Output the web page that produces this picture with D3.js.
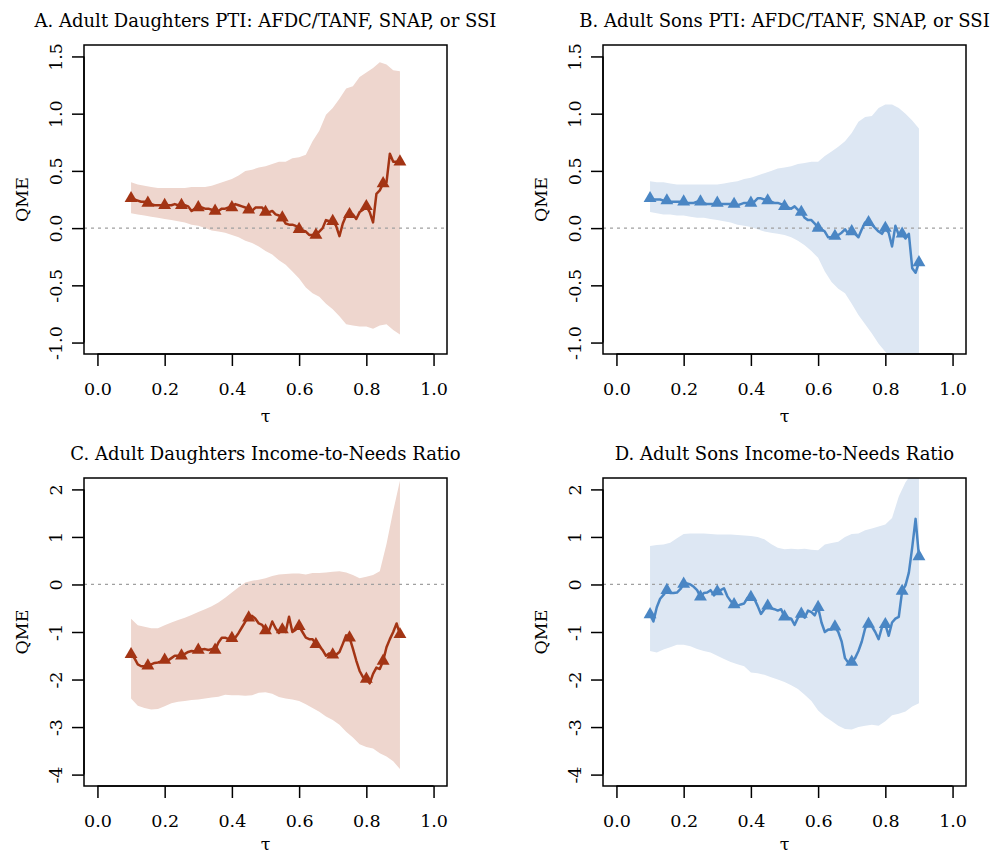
<!DOCTYPE html>
<html>
<head>
<meta charset="utf-8">
<title>QME panels</title>
<script src="https://d3js.org/d3.v7.min.js"></script>
<style>
  body { margin: 0; background: #fff; }
  svg text { font-family: "DejaVu Serif", serif; fill: #000; }
  .panel__title { font-size: 18px; }
  .panel__axis text { font-size: 17.5px; }
  .panel__label { font-size: 17.5px; }
</style>
</head>
<body>
<svg width="994" height="856"></svg>
<script>
// quantile grid for the estimated lines (triangles every 0.05)
const tau = [0.10,0.11,0.12,0.13,0.14,0.15,0.16,0.17,0.18,0.19,
             0.20,0.21,0.22,0.23,0.24,0.25,0.26,0.27,0.28,0.29,
             0.30,0.31,0.32,0.33,0.34,0.35,0.36,0.37,0.38,0.39,
             0.40,0.41,0.42,0.43,0.44,0.45,0.46,0.47,0.48,0.49,
             0.50,0.51,0.52,0.53,0.54,0.55,0.56,0.57,0.58,0.59,
             0.60,0.61,0.62,0.63,0.64,0.65,0.66,0.67,0.68,0.69,
             0.70,0.71,0.72,0.73,0.74,0.75,0.76,0.77,0.78,0.79,
             0.80,0.81,0.82,0.83,0.84,0.85,0.86,0.87,0.88,0.89,0.90];
// coarser grid for the confidence bands
const bandTau = [0.10,0.12,0.14,0.16,0.18,0.20,0.22,0.24,0.26,0.28,
                 0.30,0.32,0.34,0.36,0.38,0.40,0.42,0.44,0.46,0.48,
                 0.50,0.52,0.54,0.56,0.58,0.60,0.62,0.64,0.66,0.68,
                 0.70,0.72,0.74,0.76,0.78,0.80,0.82,0.84,0.86,0.88,0.90];

const xTicks = [0, 0.2, 0.4, 0.6, 0.8, 1.0];
const ptiTicks = [-1.0, -0.5, 0.0, 0.5, 1.0, 1.5];
const incTicks = [-4, -3, -2, -1, 0, 1, 2];

const titles = [
  "A. Adult Daughters PTI: AFDC/TANF, SNAP, or SSI",
  "B. Adult Sons PTI: AFDC/TANF, SNAP, or SSI",
  "C. Adult Daughters Income-to-Needs Ratio",
  "D. Adult Sons Income-to-Needs Ratio"
];

// A. daughters, PTI
const ptiDaughters = [0.26,0.25,0.24,0.23,0.23,0.22,0.21,0.20,0.20,0.20,
  0.20,0.20,0.20,0.21,0.20,0.20,0.20,0.19,0.15,0.17,
  0.18,0.18,0.17,0.17,0.16,0.15,0.15,0.17,0.17,0.18,
  0.18,0.21,0.20,0.19,0.18,0.16,0.15,0.18,0.18,0.18,
  0.14,0.14,0.15,0.12,0.11,0.09,0.04,0.03,0.03,0.02,
  -0.01,-0.02,-0.03,-0.06,-0.06,-0.06,-0.03,0.00,0.07,0.06,
  0.06,0.02,-0.07,0.04,0.11,0.12,0.12,0.08,0.14,0.16,
  0.19,0.14,0.05,0.30,0.33,0.39,0.40,0.65,0.58,0.58,0.58];
const ptiDaughtersHi = [0.40,0.38,0.37,0.36,0.35,0.35,0.35,0.35,0.35,0.36,
  0.36,0.36,0.37,0.39,0.41,0.43,0.46,0.50,0.51,0.53,
  0.54,0.56,0.58,0.58,0.61,0.62,0.64,0.76,0.85,0.99,
  1.05,1.13,1.22,1.24,1.32,1.36,1.40,1.45,1.43,1.38,1.37];
const ptiDaughtersLo = [0.13,0.12,0.11,0.10,0.09,0.08,0.07,0.06,0.05,0.03,
  0.02,0.00,-0.02,-0.03,-0.04,-0.06,-0.08,-0.11,-0.13,-0.16,
  -0.20,-0.23,-0.28,-0.32,-0.38,-0.44,-0.52,-0.57,-0.60,-0.66,
  -0.71,-0.77,-0.84,-0.85,-0.86,-0.86,-0.88,-0.85,-0.84,-0.89,-0.93];

// B. sons, PTI
const ptiSons = [0.26,0.25,0.25,0.25,0.24,0.24,0.23,0.23,0.23,0.23,
  0.23,0.22,0.22,0.22,0.23,0.23,0.22,0.21,0.21,0.21,
  0.22,0.21,0.21,0.21,0.21,0.21,0.20,0.21,0.22,0.22,
  0.22,0.23,0.26,0.26,0.25,0.24,0.23,0.22,0.22,0.21,
  0.19,0.18,0.17,0.19,0.16,0.14,0.09,0.07,0.07,0.04,
  0.00,-0.01,-0.03,-0.08,-0.08,-0.07,-0.06,-0.04,-0.01,-0.05,
  -0.03,-0.05,-0.08,-0.01,0.05,0.05,0.03,0.00,-0.03,-0.05,
  0.00,-0.04,-0.16,0.02,-0.06,-0.05,-0.09,-0.05,-0.35,-0.39,-0.30];
const ptiSonsHi = [0.41,0.40,0.40,0.39,0.38,0.38,0.38,0.38,0.38,0.38,
  0.38,0.39,0.40,0.41,0.43,0.44,0.46,0.48,0.50,0.52,
  0.53,0.54,0.56,0.57,0.58,0.58,0.63,0.67,0.71,0.76,
  0.83,0.93,0.97,0.98,1.05,1.08,1.08,1.05,1.00,0.94,0.87];
const ptiSonsLo = [0.14,0.13,0.12,0.12,0.11,0.11,0.10,0.09,0.09,0.08,
  0.07,0.06,0.05,0.03,0.02,0.01,-0.01,-0.03,-0.04,-0.05,
  -0.06,-0.08,-0.11,-0.15,-0.20,-0.26,-0.38,-0.47,-0.53,-0.57,
  -0.66,-0.76,-0.84,-0.92,-1.01,-1.08,-1.15,-1.20,-1.25,-1.30,-1.35];

// C. daughters, income-to-needs
const incDaughters = [-1.47,-1.55,-1.68,-1.72,-1.72,-1.71,-1.68,-1.65,-1.64,-1.62,
  -1.59,-1.60,-1.55,-1.50,-1.50,-1.50,-1.46,-1.42,-1.40,-1.41,
  -1.38,-1.37,-1.36,-1.38,-1.36,-1.38,-1.22,-1.12,-1.12,-1.15,
  -1.13,-1.12,-1.02,-0.90,-0.78,-0.70,-0.66,-0.72,-0.82,-0.85,
  -0.97,-0.98,-0.78,-0.92,-1.02,-0.95,-1.00,-0.68,-1.00,-0.95,
  -0.88,-1.00,-1.12,-1.15,-1.15,-1.26,-1.30,-1.38,-1.50,-1.45,
  -1.48,-1.48,-1.42,-1.25,-1.07,-1.12,-1.35,-1.60,-1.82,-1.95,
  -1.99,-2.08,-1.88,-1.75,-1.78,-1.61,-1.32,-1.15,-1.00,-0.82,-1.05];
const incDaughtersHi = [-0.72,-0.86,-0.89,-0.92,-0.92,-0.86,-0.80,-0.75,-0.70,-0.64,
  -0.58,-0.52,-0.46,-0.38,-0.28,-0.17,-0.06,0.04,0.08,0.10,
  0.13,0.18,0.21,0.22,0.23,0.23,0.21,0.24,0.24,0.25,
  0.27,0.28,0.25,0.20,0.13,0.16,0.20,0.28,0.85,1.55,2.18];
const incDaughtersLo = [-2.40,-2.55,-2.60,-2.63,-2.62,-2.56,-2.50,-2.47,-2.45,-2.43,
  -2.42,-2.40,-2.38,-2.36,-2.32,-2.33,-2.33,-2.34,-2.33,-2.28,
  -2.27,-2.30,-2.37,-2.40,-2.42,-2.45,-2.52,-2.60,-2.68,-2.78,
  -2.85,-2.95,-3.10,-3.22,-3.36,-3.42,-3.45,-3.55,-3.62,-3.72,-3.88];

// D. sons, income-to-needs
const incSons = [-0.63,-0.78,-0.48,-0.30,-0.22,-0.12,-0.18,-0.18,-0.17,-0.10,
  0.01,0.02,0.00,-0.05,-0.12,-0.26,-0.18,-0.17,-0.12,-0.23,
  -0.15,-0.12,-0.08,-0.25,-0.35,-0.42,-0.45,-0.42,-0.40,-0.28,
  -0.27,-0.30,-0.45,-0.62,-0.52,-0.45,-0.50,-0.52,-0.55,-0.52,
  -0.68,-0.70,-0.72,-0.85,-0.70,-0.62,-0.70,-0.55,-0.58,-0.65,
  -0.48,-0.80,-1.00,-0.95,-0.95,-0.89,-1.00,-1.20,-1.55,-1.65,
  -1.63,-1.55,-1.40,-1.20,-0.92,-0.83,-0.88,-1.00,-1.15,-0.90,
  -0.84,-1.08,-0.80,-0.72,-0.68,-0.14,-0.02,0.25,0.78,1.38,0.59];
const incSonsHi = [0.81,0.83,0.84,0.88,0.97,1.06,1.07,1.07,1.07,1.06,
  1.05,1.05,1.05,1.04,1.03,1.02,1.00,0.95,0.85,0.77,
  0.74,0.75,0.74,0.75,0.73,0.72,0.84,0.87,0.90,1.00,
  1.06,1.07,1.14,1.18,1.22,1.26,1.40,1.85,2.15,2.35,2.40];
const incSonsLo = [-1.40,-1.43,-1.37,-1.32,-1.27,-1.27,-1.30,-1.36,-1.40,-1.43,
  -1.50,-1.57,-1.63,-1.68,-1.72,-1.85,-1.87,-1.90,-1.95,-2.00,
  -2.05,-2.12,-2.20,-2.32,-2.45,-2.65,-2.78,-2.87,-2.97,-3.04,
  -3.05,-3.00,-2.97,-2.95,-2.97,-2.88,-2.75,-2.72,-2.67,-2.57,-2.50];

const daughterColor = "#a33414";
const daughterFill = "#eed6ce";
const sonColor = "#4a86c4";
const sonFill = "#dde7f3";

function qmePanel(selection, props) {
  const width = props.width;
  const height = props.height;

  // R style: limits padded by 4% on each side
  const xScale = d3.scaleLinear().domain([-0.04, 1.04]).range([0, width]);
  const yPad = (props.yLim[1] - props.yLim[0]) * 0.04;
  const yScale = d3.scaleLinear()
    .domain([props.yLim[0] - yPad, props.yLim[1] + yPad])
    .range([height, 0]);

  const g = selection.append("g")
    .attr("class", "panel")
    .attr("transform", `translate(${props.x}, ${props.y})`);

  g.append("clipPath")
    .attr("id", props.id)
    .append("rect")
      .attr("width", width)
      .attr("height", height);

  const plot = g.append("g").attr("clip-path", `url(#${props.id})`);

  const band = bandTau.map((t, i) => ({t: t, lo: props.lo[i], hi: props.hi[i]}));
  plot.append("path")
    .datum(band)
    .attr("fill", props.fill)
    .attr("d", d3.area()
      .x(d => xScale(d.t))
      .y0(d => yScale(d.lo))
      .y1(d => yScale(d.hi)));

  plot.append("line")
    .attr("x1", 0)
    .attr("x2", width)
    .attr("y1", yScale(0))
    .attr("y2", yScale(0))
    .attr("stroke", "#a0a0a0")
    .attr("stroke-width", 1.3)
    .attr("stroke-dasharray", "3,4");

  const pts = tau.map((t, i) => ({t: t, v: props.values[i]}));
  plot.append("path")
    .datum(pts)
    .attr("fill", "none")
    .attr("stroke", props.color)
    .attr("stroke-width", 2.5)
    .attr("stroke-linejoin", "round")
    .attr("d", d3.line().x(d => xScale(d.t)).y(d => yScale(d.v)));

  plot.selectAll(".marker")
    .data(pts.filter((d, i) => i % 5 === 0))
    .enter().append("path")
      .attr("class", "marker")
      .attr("fill", props.color)
      .attr("transform", d => `translate(${xScale(d.t)}, ${yScale(d.v)})`)
      .attr("d", d3.symbol(d3.symbolTriangle, 72));

  g.append("rect")
    .attr("width", width)
    .attr("height", height)
    .attr("fill", "none")
    .attr("stroke", "#000")
    .attr("stroke-width", 1.5);

  const xAxis = g.append("g")
    .attr("class", "panel__axis")
    .attr("transform", `translate(0, ${height})`)
    .call(d3.axisBottom(xScale)
      .tickValues(xTicks)
      .tickSize(12)
      .tickFormat(d => d.toFixed(1)));
  xAxis.select(".domain").remove();
  xAxis.selectAll(".tick line").attr("stroke-width", 1.5);
  xAxis.selectAll(".tick text")
    .attr("y", 41)
    .attr("dy", 0)
    .attr("fill", "#000");
  xAxis.append("line")
    .attr("x1", xScale(0)).attr("x2", xScale(1))
    .attr("stroke", "#000").attr("stroke-width", 1.5);

  const yAxis = g.append("g")
    .attr("class", "panel__axis")
    .call(d3.axisLeft(yScale)
      .tickValues(props.yTicks)
      .tickSize(12)
      .tickFormat(props.yFormat));
  yAxis.select(".domain").remove();
  yAxis.selectAll(".tick line").attr("stroke-width", 1.5);
  yAxis.selectAll(".tick text")
    .attr("x", 0)
    .attr("dy", 0)
    .attr("text-anchor", "middle")
    .attr("transform", "translate(-22, 0) rotate(-90)")
    .attr("fill", "#000");
  yAxis.append("line")
    .attr("y1", yScale(props.yTicks[0]))
    .attr("y2", yScale(props.yTicks[props.yTicks.length - 1]))
    .attr("stroke", "#000").attr("stroke-width", 1.5);

  g.append("text")
    .attr("class", "panel__title")
    .attr("x", width / 2)
    .attr("y", -18)
    .attr("text-anchor", "middle")
    .text(props.title);

  g.append("text")
    .attr("class", "panel__label")
    .attr("x", width / 2)
    .attr("y", height + props.tauGap)
    .attr("text-anchor", "middle")
    .text("τ");

  g.append("text")
    .attr("class", "panel__label")
    .attr("transform", `translate(-56, ${height / 2}) rotate(-90)`)
    .attr("text-anchor", "middle")
    .text("QME");
}

const svg = d3.select("svg");
const oneDecimal = d => d.toFixed(1);
const integer = d => d.toFixed(0);

qmePanel(svg, {id: "clip-a", x: 84, y: 45, width: 363, height: 309, tauGap: 68,
  yLim: [-1, 1.5], yTicks: ptiTicks, yFormat: oneDecimal, title: titles[0],
  values: ptiDaughters, lo: ptiDaughtersLo, hi: ptiDaughtersHi,
  color: daughterColor, fill: daughterFill});
qmePanel(svg, {id: "clip-b", x: 603, y: 45, width: 363, height: 309, tauGap: 68,
  yLim: [-1, 1.5], yTicks: ptiTicks, yFormat: oneDecimal, title: titles[1],
  values: ptiSons, lo: ptiSonsLo, hi: ptiSonsHi,
  color: sonColor, fill: sonFill});
qmePanel(svg, {id: "clip-c", x: 84, y: 478, width: 363, height: 308, tauGap: 64,
  yLim: [-4, 2], yTicks: incTicks, yFormat: integer, title: titles[2],
  values: incDaughters, lo: incDaughtersLo, hi: incDaughtersHi,
  color: daughterColor, fill: daughterFill});
qmePanel(svg, {id: "clip-d", x: 603, y: 478, width: 363, height: 308, tauGap: 64,
  yLim: [-4, 2], yTicks: incTicks, yFormat: integer, title: titles[3],
  values: incSons, lo: incSonsLo, hi: incSonsHi,
  color: sonColor, fill: sonFill});
</script>
</body>
</html>
